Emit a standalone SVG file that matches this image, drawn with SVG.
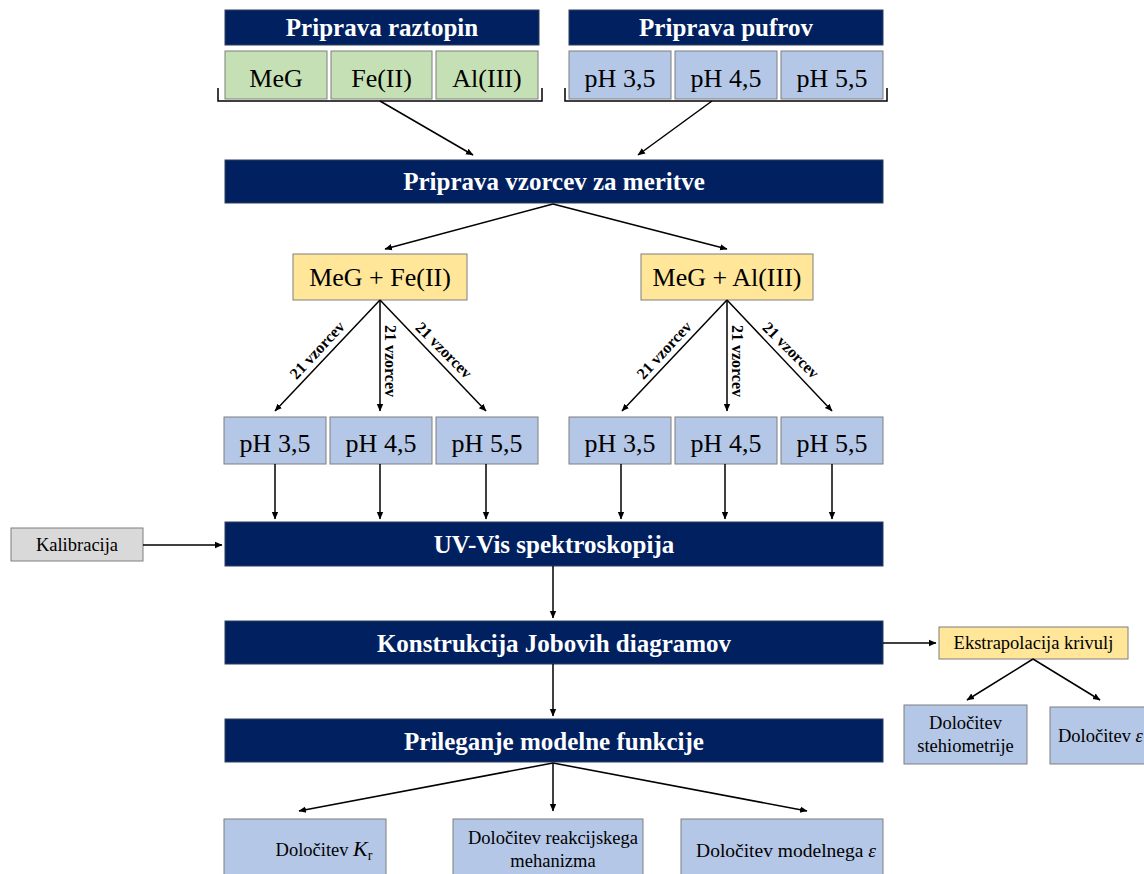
<svg xmlns="http://www.w3.org/2000/svg" width="1144" height="874" viewBox="0 0 1144 874">
<defs>
<marker id="ah" markerWidth="8" markerHeight="8" refX="7" refY="4" orient="auto" markerUnits="userSpaceOnUse">
<path d="M0,0.8 L7.5,4 L0,7.2 Z" fill="#000"/>
</marker>
<style>
.nav{fill:#002060;stroke:#2f3f5f;stroke-width:1}
.grn{fill:#c5e0b4;stroke:#7f7f7f;stroke-width:1}
.blu{fill:#b4c7e7;stroke:#7f7f7f;stroke-width:1}
.yel{fill:#ffe699;stroke:#7f7f7f;stroke-width:1}
.gry{fill:#d9d9d9;stroke:#7f7f7f;stroke-width:1}
text{font-family:'Liberation Serif','Times New Roman',Tinos,'DejaVu Serif',serif}
.ht{font-weight:bold;font-size:25px;fill:#fff;text-anchor:middle}
.t{font-size:26px;fill:#000;text-anchor:middle}
.s{font-size:18.5px;fill:#000;text-anchor:middle}
.v{font-size:16px;font-weight:bold;fill:#000;text-anchor:middle;dominant-baseline:central}
.c line,.c path{stroke:#000;stroke-width:1.5;fill:none}
.c .a{marker-end:url(#ah)}
</style>
</defs>
<rect width="1144" height="874" fill="#fff"/>

<g id="n-raztopin"><rect class="nav" x="225" y="10" width="314" height="35"/><text class="ht" x="382" y="36">Priprava raztopin</text></g>
<g id="n-pufrov"><rect class="nav" x="569" y="10" width="314" height="35"/><text class="ht" x="726" y="36">Priprava pufrov</text></g>
<g id="n-meg"><rect class="grn" x="225" y="51" width="102" height="48"/><text class="t" x="276" y="87">MeG</text></g>
<g id="n-fe"><rect class="grn" x="331" y="51" width="101" height="48"/><text class="t" x="381.5" y="87">Fe(II)</text></g>
<g id="n-al"><rect class="grn" x="436" y="51" width="102" height="48"/><text class="t" x="487" y="87">Al(III)</text></g>
<g id="n-p1"><rect class="blu" x="569" y="51" width="102" height="48"/><text class="t" x="620" y="87">pH 3,5</text></g>
<g id="n-p2"><rect class="blu" x="675" y="51" width="102" height="48"/><text class="t" x="726" y="87">pH 4,5</text></g>
<g id="n-p3"><rect class="blu" x="781" y="51" width="102" height="48"/><text class="t" x="832" y="87">pH 5,5</text></g>

<g id="n-vzorcev"><rect class="nav" x="225" y="160" width="658" height="43"/><text class="ht" x="554" y="190">Priprava vzorcev za meritve</text></g>

<g id="n-megfe"><rect class="yel" x="293" y="254" width="174" height="46"/><text class="t" x="380" y="286">MeG + Fe(II)</text></g>
<g id="n-megal"><rect class="yel" x="641" y="254" width="172" height="46"/><text class="t" x="727" y="286">MeG + Al(III)</text></g>

<g id="n-a1"><rect class="blu" x="224" y="417" width="102" height="47"/><text class="t" x="275" y="452">pH 3,5</text></g>
<g id="n-a2"><rect class="blu" x="330" y="417" width="102" height="47"/><text class="t" x="381" y="452">pH 4,5</text></g>
<g id="n-a3"><rect class="blu" x="436" y="417" width="102" height="47"/><text class="t" x="487" y="452">pH 5,5</text></g>
<g id="n-b1"><rect class="blu" x="569" y="417" width="102" height="47"/><text class="t" x="620" y="452">pH 3,5</text></g>
<g id="n-b2"><rect class="blu" x="675" y="417" width="102" height="47"/><text class="t" x="726" y="452">pH 4,5</text></g>
<g id="n-b3"><rect class="blu" x="781" y="417" width="102" height="47"/><text class="t" x="832" y="452">pH 5,5</text></g>

<g id="n-kal"><rect class="gry" x="11" y="528" width="132" height="33"/><text class="s" x="77" y="551">Kalibracija</text></g>
<g id="n-uv"><rect class="nav" x="225" y="522" width="658" height="44"/><text class="ht" x="554" y="553">UV-Vis spektroskopija</text></g>
<g id="n-job"><rect class="nav" x="225" y="621" width="658" height="43"/><text class="ht" x="554" y="652">Konstrukcija Jobovih diagramov</text></g>
<g id="n-ekst"><rect class="yel" x="939" y="627" width="189" height="32"/><text class="s" x="1033.5" y="649">Ekstrapolacija krivulj</text></g>
<g id="n-steh"><rect class="blu" x="904" y="705" width="123" height="59"/><text class="s" x="965.5" y="729">Določitev</text><text class="s" x="965.5" y="752">stehiometrije</text></g>
<g id="n-eps"><rect class="blu" x="1050" y="707" width="100" height="57"/><text class="s" x="1058" y="742" style="text-anchor:start">Določitev <tspan font-style="italic">ε</tspan></text></g>
<g id="n-pril"><rect class="nav" x="225" y="719" width="658" height="43"/><text class="ht" x="554" y="750">Prileganje modelne funkcije</text></g>

<g id="n-kr"><rect class="blu" x="224" y="819" width="162" height="60"/><text class="s" x="324" y="856">Določitev <tspan font-style="italic" font-size="22px">K</tspan><tspan font-size="14px" dy="4">r</tspan></text></g>
<g id="n-meh"><rect class="blu" x="453" y="819" width="190" height="60"/><text class="s" x="553" y="844">Določitev reakcijskega</text><text class="s" x="553" y="867">mehanizma</text></g>
<g id="n-mod"><rect class="blu" x="681" y="819" width="202" height="60"/><text class="s" x="786" y="857" style="font-size:19.5px">Določitev modelnega <tspan font-style="italic">ε</tspan></text></g>

<g id="connectors" class="c">
<path d="M218,88 V101 H542 V88"/>
<path d="M565,88 V101 H887 V88"/>
<line class="a" x1="380" y1="101" x2="473" y2="155"/>
<line class="a" x1="712" y1="101" x2="638" y2="155"/>
<line class="a" x1="553" y1="204" x2="385" y2="249"/>
<line class="a" x1="553" y1="204" x2="727" y2="249"/>
<line class="a" x1="380" y1="300" x2="275" y2="411"/>
<line class="a" x1="380" y1="300" x2="380" y2="411"/>
<line class="a" x1="380" y1="300" x2="486" y2="411"/>
<line class="a" x1="727" y1="300" x2="622" y2="411"/>
<line class="a" x1="727" y1="300" x2="727" y2="411"/>
<line class="a" x1="727" y1="300" x2="832" y2="411"/>
<line class="a" x1="275" y1="464" x2="275" y2="519"/>
<line class="a" x1="380" y1="464" x2="380" y2="519"/>
<line class="a" x1="486" y1="464" x2="486" y2="519"/>
<line class="a" x1="621" y1="464" x2="621" y2="519"/>
<line class="a" x1="725" y1="464" x2="725" y2="519"/>
<line class="a" x1="832" y1="464" x2="832" y2="519"/>
<line class="a" x1="143" y1="545" x2="222" y2="545"/>
<line class="a" x1="553" y1="566" x2="553" y2="618"/>
<line class="a" x1="883" y1="643" x2="936" y2="643"/>
<line class="a" x1="1033" y1="659" x2="967" y2="700"/>
<line class="a" x1="1033" y1="659" x2="1100" y2="700"/>
<line class="a" x1="553" y1="664" x2="553" y2="716"/>
<line class="a" x1="553" y1="763" x2="299" y2="811"/>
<line class="a" x1="553" y1="763" x2="553" y2="811"/>
<line class="a" x1="553" y1="763" x2="807" y2="811"/>
</g>

<g id="labels">
<text class="v" transform="translate(317,350) rotate(-47)">21 vzorcev</text>
<text class="v" transform="translate(390,361) rotate(90)">21 vzorcev</text>
<text class="v" transform="translate(444,350) rotate(45)">21 vzorcev</text>
<text class="v" transform="translate(664,350) rotate(-47)">21 vzorcev</text>
<text class="v" transform="translate(737,361) rotate(90)">21 vzorcev</text>
<text class="v" transform="translate(791,350) rotate(45)">21 vzorcev</text>
</g>
</svg>
